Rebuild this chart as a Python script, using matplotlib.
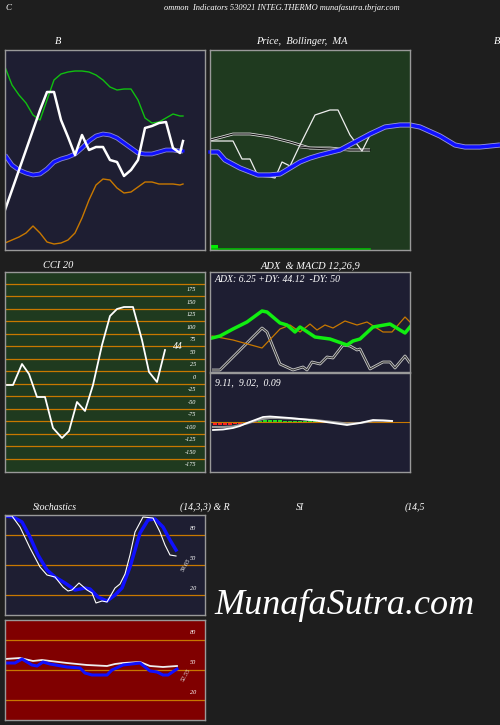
import matplotlib
matplotlib.use("Agg")
import matplotlib.pyplot as plt

BG = "#1e1e1e"
NAVY = "#1e1e32"
GREEN_BG = "#1f3a1f"
RED_BG = "#800000"
ORANGE = "#c87800"
plt.rcParams['font.family'] = ['Liberation Serif', 'DejaVu Serif']
plt.rcParams['font.style'] = 'italic'

# ---- Bollinger panel (x: day position, y: level; axis inverted)
b_x = [5,12,19,26,33,40,47,54,61,68,75,82,89,96,103,110,117,124,131,138,145,152,159,166,173,180,183]
b_price = [210,190,170,150,130,110,92,92,120,137,155,135,150,147,147,160,162,176,170,160,128,126,123,122,148,153,141]
b_upper = [67,85,95,103,115,120,100,80,74,72,71,71,72,75,80,87,90,89,89,100,118,123,122,118,114,116,116]
b_mid = [155,165,170,173,175,174,169,162,159,157,154,148,141,136,134,135,138,143,148,153,154,154,152,150,150,151,151]
b_lower = [243,240,237,233,226,233,242,244,243,240,233,218,200,185,179,180,188,193,192,187,182,182,184,184,184,185,184]

# ---- Price panel
p_x = [210,233,242,250,258,270,275,282,290,300,315,330,338,350,362,370]
p_price = [141,141,159,159,176,177,178,162,166,145,115,110,110,135,151,135]
ma1_x = [210,222,233,250,270,290,310,330,350,370]
ma1 = [140,137,134,134,137,142,148,148,150,150]
ma2_x = [300,310,330,350,370]
ma2 = [147,148,149,150,150]
blue_x = [210,218,225,240,258,270,280,290,300,310,320,340,355,370,385,400,410,420,440,455,465,480,490,500]
blue = [152,152,160,168,175,175,174,168,162,158,155,150,142,134,127,125,125,127,136,145,147,147,146,145]

# ---- CCI
cci_x = [5,13,22,29,37,45,53,62,69,77,85,93,102,110,117,124,133,142,149,157,165]
cci = [-15,-15,27,7,-39,-39,-101,-121,-107,-49,-67,-15,65,123,137,141,141,75,11,-9,55]
cci_ticks = [175,150,125,100,75,50,25,0,-25,-50,-75,-100,-125,-150,-175]

# ---- ADX (levels, axis inverted)
adx_g_x = [212,220,233,247,262,267,280,287,295,300,315,330,347,353,360,373,390,405,410]
adx_g = [338,336,329,322,311,312,323,325,332,327,337,339,345,341,339,327,324,333,327]
adx_o_x = [212,233,262,280,290,300,310,317,325,333,345,357,367,383,392,405,410]
adx_o = [336,340,348,329,325,332,324,330,325,328,321,325,322,332,332,317,322]
adx_w_x = [212,220,262,267,280,293,303,307,312,320,327,333,343,350,357,360,370,383,390,395,405,410]
adx_w = [370,370,328,332,364,370,367,370,362,364,357,358,345,346,350,349,369,362,362,368,356,363]

# ---- MACD
macd_x = [213,223,233,240,247,255,263,270,277,290,300,315,333,347,360,373,383,392]
macd = [-8,-7.5,-6,-4,-1,2,5,5.5,5,4,3,1.5,-1,-3,-1,2,1.5,1]
signal = [-5,-5,-4.5,-3,-1.5,1,3,4,4,3.5,3,2,0,-1.5,-1,1,1.5,1]
hist_x = [215,220,225,230,235,240,260,265,270,275,280,285,290,295,300,305,310,315,320,325,330]
hist = [-3,-3,-3,-3,-2.5,-2,1,1.5,1.5,1.5,1.5,1.2,1.2,1,1,1,0.8,0.8,0.6,0.5,0.4]

# ---- Stochastics
st_x = [5,12,20,30,40,47,55,63,68,72,79,87,92,96,102,107,115,120,125,130,135,143,153,160,165,170,176]
st_fast = [99,99,88,67,48,40,38,28,24,25,32,25,22,12,14,13,27,31,41,60,83,98,97,83,70,60,59]
st_slow_x = [5,13,22,30,38,47,55,65,75,85,90,98,107,115,122,130,140,148,155,163,170,176]
st_slow = [99,98,93,78,60,45,38,32,25,27,26,18,14,20,27,48,82,95,96,88,75,65]

# ---- RSI
rsi_x = [5,20,33,42,67,87,107,115,123,140,150,163,177]
rsi_w = [61,62,59,60,57,55,54,56,57,58,54,53,54]
rsi_b_x = [5,15,22,32,37,43,50,67,80,85,92,107,112,123,140,150,157,163,168,177]
rsi_b = [57,57,61,55,54,58,56,53,52,47,45,45,50,55,57,49,48,45,45,51]

W, H = 500, 725
fig = plt.figure(figsize=(5, 7.25), dpi=100, facecolor=BG)

def ax_px(x0, y0, x1, y1, bg):
    a = fig.add_axes([x0 / W, 1 - y1 / H, (x1 - x0) / W, (y1 - y0) / H], facecolor=bg)
    a.set_xticks([]); a.set_yticks([])
    for s in a.spines.values():
        s.set_color("#999999"); s.set_linewidth(1)
    return a

def txt(x, y, s, size=7.5, **kw):
    fig.text(x / W, 1 - y / H, s, color="white", fontsize=size, ha=kw.pop("ha", "center"), va="center", **kw)

def dbl(ax, x, y, outer, inner, w, **kw):
    ax.plot(x, y, color=outer, lw=w + 1.2, solid_capstyle="butt", **kw)
    ax.plot(x, y, color=inner, lw=w, **kw)

# Titles
txt(8, 8, "C", 6.5)
txt(282, 8, "ommon  Indicators 530921 INTEG.THERMO munafasutra.tbrjar.com", 6)
txt(58, 42, "B")
txt(302, 42, "Price,  Bollinger,  MA")
txt(494, 42, "B", ha="left")
txt(58, 266, "CCI 20")
txt(310, 266, "ADX  & MACD 12,26,9")
txt(55, 507, "Stochastics", 7)
txt(205, 507, "(14,3,3) & R", 7)
txt(300, 507, "SI", 7)
txt(415, 507, "(14,5", 7)
txt(345, 605, "MunafaSutra.com", 26)

# B panel
a = ax_px(5, 50, 205, 250, NAVY)
a.set_xlim(5, 205); a.set_ylim(250, 50)
a.plot(b_x, b_upper, color="#10c010", lw=1)
a.plot(b_x, b_lower, color=ORANGE, lw=1)
dbl(a, b_x, b_mid, "#8888cc", "#1010ff", 2.2)
a.plot(b_x, b_price, color="white", lw=1.8)

# Price panel
a = ax_px(210, 50, 410, 250, GREEN_BG)
a.set_xlim(210, 410); a.set_ylim(250, 50)
dbl(a, ma1_x, ma1, "#dddddd", "#111111", 0.8)
dbl(a, ma2_x, ma2, "#aaaaaa", "#111111", 0.8)
a.plot(p_x, p_price, color="#eeeeee", lw=0.9)
dbl(a, blue_x, blue, "#9999dd", "#1010ff", 2.5, clip_on=False)
a.bar([214], [5], width=8, bottom=245, color="#00ee00")
a.plot([210, 370], [249, 249], color="#00bb00", lw=1.2)

# CCI
a = ax_px(5, 272, 205, 472, GREEN_BG)
a.set_xlim(5, 205); a.set_ylim(-189, 211)
for v in cci_ticks:
    a.axhline(v + 12.5, color=ORANGE, lw=0.9)
    a.text(196, v, str(v), color="white", fontsize=4.5, ha="right", va="center")
a.plot(cci_x, cci, color="white", lw=1.3)
a.text(173, 62, "44", color="white", fontsize=7, ha="left", va="center")

# ADX
a = ax_px(210, 272, 410, 372, NAVY)
a.set_xlim(210, 410); a.set_ylim(372, 272)
dbl(a, adx_w_x, adx_w, "#cccccc", "#333333", 0.8)
a.plot(adx_o_x, adx_o, color=ORANGE, lw=0.9)
a.plot(adx_g_x, adx_g, color="#11ee11", lw=2.5)
a.text(215, 280, "ADX: 6.25 +DY: 44.12  -DY: 50", color="white", fontsize=7, va="center")

# MACD
a = ax_px(210, 373, 410, 472, NAVY)
a.set_xlim(210, 410); a.set_ylim(-50, 49)
a.axhline(0, color=ORANGE, lw=0.8)
a.bar(hist_x, hist, width=3.5, color=["#ff2020" if h < 0 else "#22dd22" for h in hist])
a.plot(macd_x, signal, color="#999999", lw=1.5)
a.plot(macd_x, macd, color="white", lw=1.3)
a.text(215, 39, "9.11,  9.02,  0.09", color="white", fontsize=7, va="center")

# Stochastics
a = ax_px(5, 515, 205, 615, NAVY)
a.set_xlim(5, 205); a.set_ylim(0, 100)
for v in [80, 50, 20]:
    a.axhline(v, color=ORANGE, lw=0.9)
    a.text(196, v + 7, str(v), color="white", fontsize=4.5, ha="right", va="center")
a.plot(st_slow_x, st_slow, color="#1010ff", lw=2.5)
a.plot(st_x, st_fast, color="white", lw=0.8)
a.text(180, 50, "59.65", color="white", fontsize=4.5, rotation=60, ha="left", va="center")

# RSI
a = ax_px(5, 620, 205, 720, RED_BG)
a.set_xlim(5, 205); a.set_ylim(0, 100)
for v in [80, 50, 20]:
    a.axhline(v, color=ORANGE, lw=0.9)
    a.text(196, v + 8, str(v), color="white", fontsize=4.5, ha="right", va="center")
a.plot(rsi_x, rsi_w, color="#eeeeee", lw=1.3)
a.plot(rsi_b_x, rsi_b, color="#1010ff", lw=2.2)
a.text(180, 45, "52.55", color="#dddddd", fontsize=4.5, rotation=60, ha="left", va="center")

fig.savefig("out.png", dpi=100, facecolor=BG)
